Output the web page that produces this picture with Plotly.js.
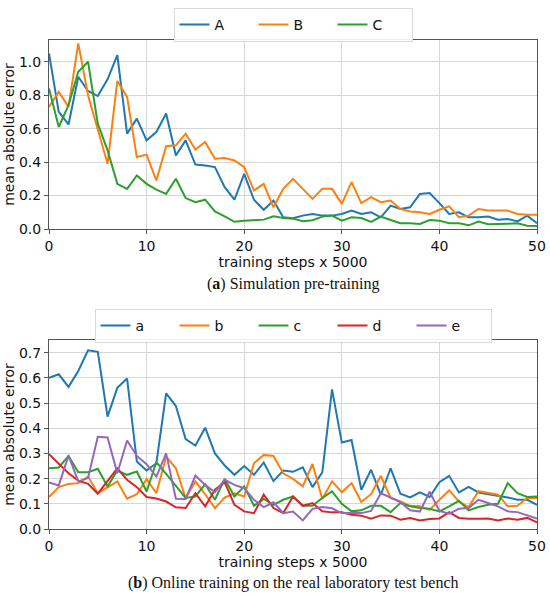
<!DOCTYPE html>
<html>
<head>
<meta charset="utf-8">
<script src="https://cdn.plot.ly/plotly-3.0.1.min.js"></script>
<style>html,body{margin:0;padding:0;background:#fff;}</style>
</head>
<body>
<div id="chart" style="width:550px;height:596px;"></div>
<script>
// ---- data ----
const steps = Array.from({length: 51}, (_, i) => i);

const simA = [1.05,0.70,0.625,0.91,0.825,0.795,0.895,1.04,0.57,0.66,0.53,0.58,0.69,0.44,0.53,0.385,0.38,0.37,0.25,0.175,0.33,0.175,0.115,0.17,0.07,0.065,0.08,0.09,0.08,0.08,0.09,0.11,0.09,0.10,0.07,0.14,0.12,0.13,0.21,0.215,0.155,0.09,0.10,0.07,0.07,0.075,0.055,0.06,0.045,0.08,0.035];
const simB = [0.73,0.82,0.73,1.11,0.80,0.59,0.39,0.885,0.79,0.43,0.445,0.29,0.495,0.50,0.57,0.475,0.52,0.42,0.425,0.41,0.37,0.23,0.27,0.13,0.24,0.30,0.24,0.18,0.24,0.24,0.15,0.28,0.155,0.19,0.16,0.17,0.12,0.105,0.10,0.09,0.115,0.135,0.07,0.08,0.12,0.11,0.11,0.11,0.09,0.085,0.085];
const simC = [0.84,0.61,0.74,0.94,1.00,0.63,0.47,0.27,0.24,0.32,0.27,0.235,0.21,0.30,0.185,0.16,0.175,0.105,0.075,0.043,0.05,0.052,0.056,0.076,0.066,0.062,0.046,0.052,0.074,0.08,0.05,0.07,0.066,0.042,0.074,0.054,0.034,0.034,0.03,0.054,0.05,0.034,0.034,0.022,0.044,0.028,0.032,0.032,0.034,0.02,0.018];

const realA = [0.60,0.614,0.564,0.627,0.709,0.703,0.446,0.56,0.597,0.268,0.232,0.261,0.538,0.488,0.357,0.331,0.402,0.30,0.252,0.215,0.25,0.215,0.264,0.19,0.232,0.227,0.245,0.166,0.225,0.554,0.343,0.353,0.156,0.235,0.136,0.241,0.14,0.125,0.145,0.127,0.186,0.211,0.145,0.167,0.145,0.138,0.133,0.125,0.116,0.116,0.096];
const realB = [0.127,0.166,0.179,0.182,0.208,0.142,0.165,0.189,0.12,0.138,0.198,0.142,0.287,0.241,0.123,0.189,0.138,0.083,0.125,0.142,0.129,0.261,0.294,0.29,0.221,0.199,0.169,0.258,0.119,0.189,0.146,0.182,0.107,0.138,0.211,0.123,0.109,0.092,0.09,0.076,0.116,0.153,0.109,0.087,0.15,0.142,0.136,0.09,0.092,0.123,0.123];
const realC = [0.241,0.244,0.29,0.225,0.225,0.239,0.169,0.232,0.215,0.228,0.149,0.265,0.219,0.169,0.123,0.129,0.178,0.116,0.199,0.129,0.169,0.092,0.119,0.096,0.116,0.129,0.092,0.092,0.123,0.149,0.10,0.07,0.074,0.092,0.092,0.067,0.103,0.09,0.083,0.08,0.07,0.09,0.112,0.074,0.087,0.096,0.10,0.182,0.142,0.127,0.129];
const realD = [0.297,0.261,0.221,0.192,0.179,0.14,0.189,0.241,0.195,0.166,0.127,0.121,0.109,0.086,0.083,0.142,0.09,0.156,0.186,0.096,0.07,0.063,0.136,0.083,0.063,0.129,0.092,0.103,0.07,0.066,0.066,0.057,0.053,0.041,0.054,0.053,0.037,0.044,0.034,0.04,0.042,0.067,0.044,0.041,0.041,0.042,0.034,0.042,0.037,0.044,0.026];
const realE = [0.185,0.173,0.291,0.189,0.202,0.366,0.363,0.221,0.351,0.29,0.257,0.208,0.30,0.12,0.119,0.212,0.175,0.146,0.195,0.175,0.162,0.116,0.087,0.106,0.063,0.069,0.034,0.08,0.087,0.082,0.063,0.063,0.063,0.072,0.142,0.125,0.107,0.074,0.069,0.148,0.072,0.061,0.08,0.083,0.116,0.103,0.09,0.07,0.067,0.054,0.041];

const topNames = ['A','B','C'];
const bottomNames = ['a','b','c','d','e'];
const xTicks = [0,10,20,30,40,50];
const topYTicks = [0.0,0.2,0.4,0.6,0.8,1.0];
const bottomYTicks = [0.0,0.1,0.2,0.3,0.4,0.5,0.6,0.7];
const xTitle = 'training steps x 5000';
const yTitle = 'mean absolute error';
const captionA = '(<b>a</b>) Simulation pre-training';
const captionB = '(<b>b</b>) Online training on the real laboratory test bench';

// ---- styling ----
const colors = ['#1f77b4','#ff7f0e','#2ca02c','#d62728','#9467bd'];
const FONT = 'DejaVu Sans, sans-serif';
const H = 596;
const py = px => (H - px) / H;

const traces = [];
[simA, simB, simC].forEach((ys, i) => {
  traces.push({x: steps, y: ys, name: topNames[i], type: 'scatter', mode: 'lines',
    line: {color: colors[i], width: 2}, xaxis: 'x', yaxis: 'y', legend: 'legend'});
});
[realA, realB, realC, realD, realE].forEach((ys, i) => {
  traces.push({x: steps, y: ys, name: bottomNames[i], type: 'scatter', mode: 'lines',
    line: {color: colors[i], width: 2}, xaxis: 'x2', yaxis: 'y2', legend: 'legend2'});
});

const axisCommon = {
  showline: true, mirror: true, linecolor: '#555', linewidth: 1,
  ticks: 'outside', ticklen: 4, tickcolor: '#555', tickwidth: 1,
  showgrid: true, gridcolor: '#d6d6d6', gridwidth: 1, zeroline: false,
  tickfont: {family: FONT, size: 14, color: '#111'},
  automargin: false
};

const legendCommon = {
  orientation: 'h', xref: 'paper', yref: 'paper', xanchor: 'center', yanchor: 'top',
  bgcolor: 'rgba(255,255,255,0.9)', bordercolor: '#d9d9d9', borderwidth: 1,
  font: {family: FONT, size: 14, color: '#111'},
  entrywidth: 34, entrywidthmode: 'pixels', itemclick: false, itemdoubleclick: false
};

const layout = {
  width: 550, height: 596,
  margin: {l: 49, r: 13, t: 0, b: 0},
  paper_bgcolor: '#fff', plot_bgcolor: '#fff',
  font: {family: FONT, size: 14, color: '#111'},
  showlegend: true,
  xaxis: Object.assign({}, axisCommon, {anchor: 'y', domain: [0, 1], range: [0, 50],
    tickvals: xTicks, title: {text: xTitle, standoff: 2, font: {family: FONT, size: 14, color: '#111'}}}),
  yaxis: Object.assign({}, axisCommon, {anchor: 'x', domain: [py(229), py(40)], range: [0, 1.13],
    tickvals: topYTicks, tickformat: '.1f', title: {text: yTitle, standoff: 1, font: {family: FONT, size: 14, color: '#111'}}}),
  xaxis2: Object.assign({}, axisCommon, {anchor: 'y2', domain: [0, 1], range: [0, 50],
    tickvals: xTicks, title: {text: xTitle, standoff: 2, font: {family: FONT, size: 14, color: '#111'}}}),
  yaxis2: Object.assign({}, axisCommon, {anchor: 'x2', domain: [py(529), py(340)], range: [0, 0.75],
    tickvals: bottomYTicks, tickformat: '.1f', title: {text: yTitle, standoff: 1, font: {family: FONT, size: 14, color: '#111'}}}),
  legend: Object.assign({}, legendCommon, {x: 0.5, y: py(8)}),
  legend2: Object.assign({}, legendCommon, {x: 0.5, y: py(309)}),
  annotations: [
    {text: captionA, xref: 'paper', yref: 'paper', x: 0.5, y: py(284), xanchor: 'center', yanchor: 'middle',
      showarrow: false, font: {family: 'Liberation Serif, serif', size: 16, color: '#111'}},
    {text: captionB, xref: 'paper', yref: 'paper', x: 0.5, y: py(583), xanchor: 'center', yanchor: 'middle',
      showarrow: false, font: {family: 'Liberation Serif, serif', size: 16, color: '#111'}}
  ]
};

Plotly.newPlot('chart', traces, layout, {displayModeBar: false, staticPlot: true});
</script>
</body>
</html>
